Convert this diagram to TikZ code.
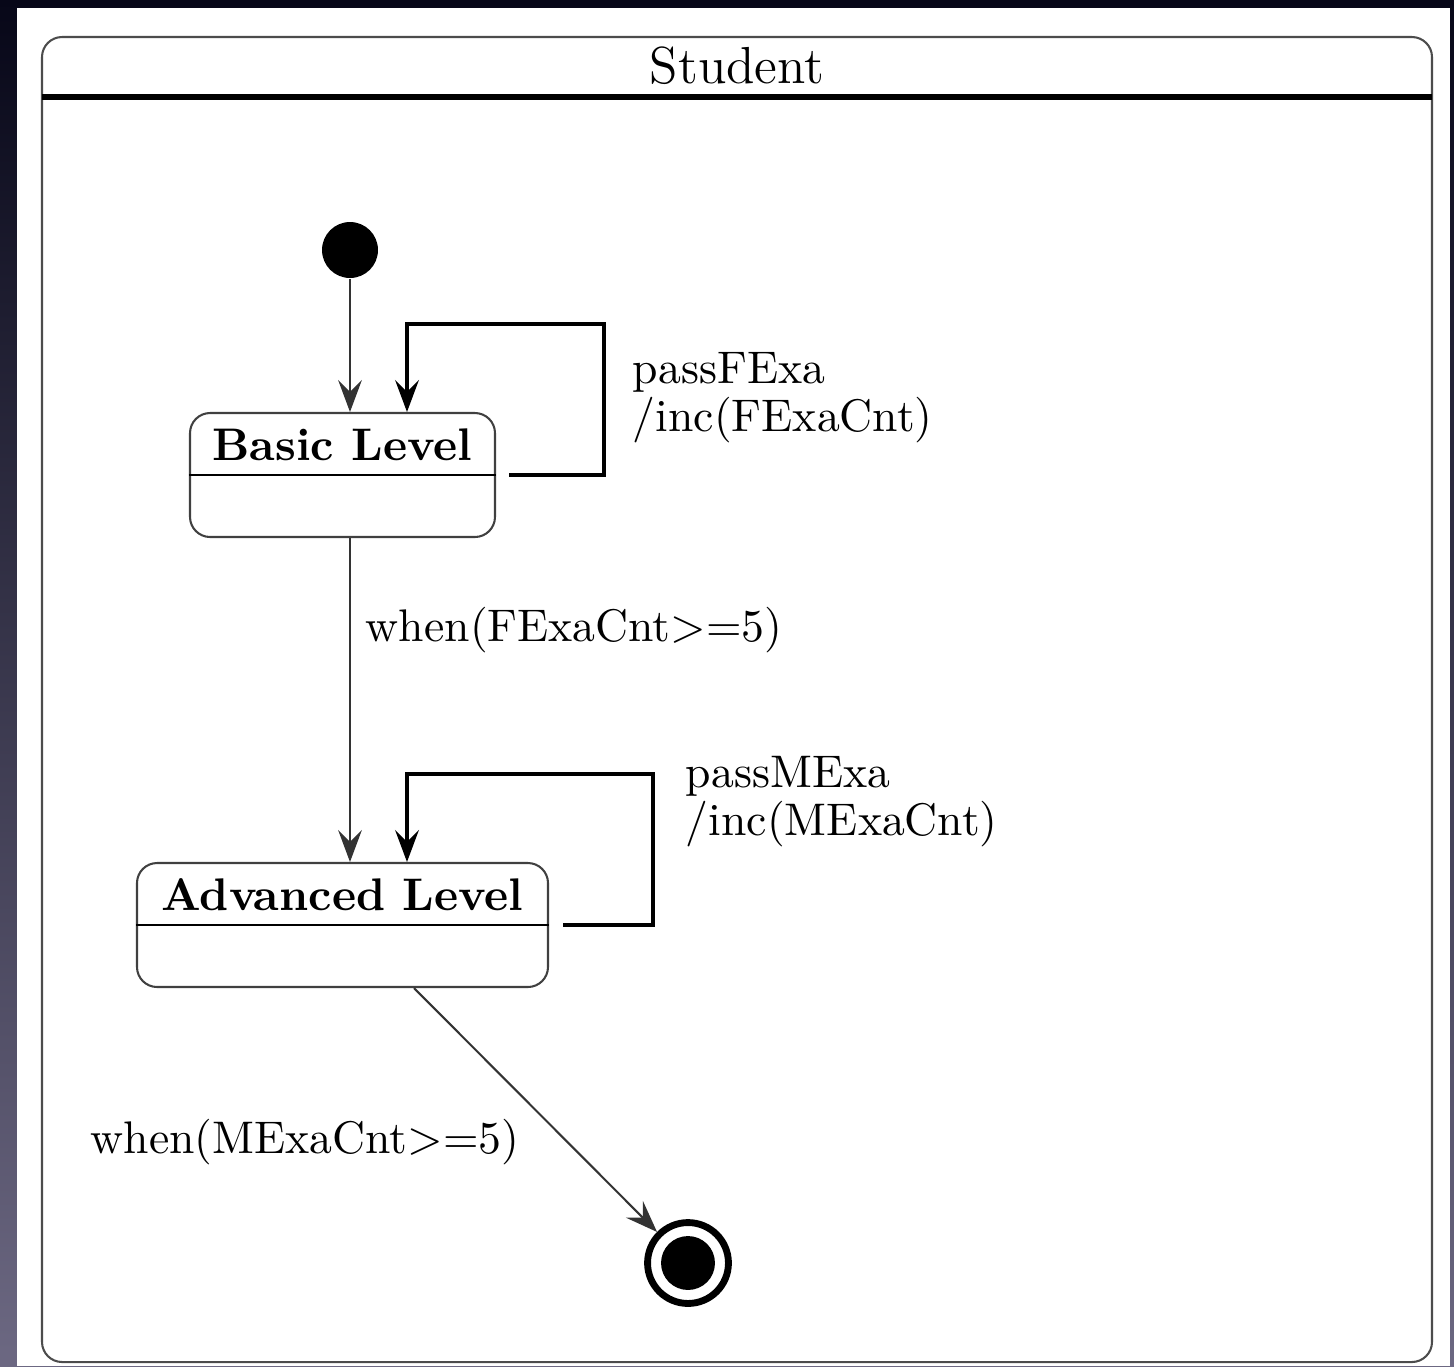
\documentclass[tikz,border=0pt]{standalone}
\usepackage{fontspec}
\usetikzlibrary{arrows.meta,calc}
\definecolor{bgtop}{RGB}{7,7,24}
\definecolor{bgmid}{RGB}{36,34,62}
\definecolor{bgbot}{RGB}{108,104,130}
\begin{document}
\begin{tikzpicture}[x=0.2188pt,y=-0.2188pt,
  frame/.style={draw=black!70, line width=0.45pt, rounded corners=4.4pt},
  statebox/.style={draw=black!75, line width=0.45pt, rounded corners=4.4pt,
    minimum height=27.13pt, inner sep=0pt},
  divider/.style={draw=black, line width=0.6pt},
  statename/.style={font=\bfseries, inner sep=0pt},
  initstate/.style={circle, fill=black, minimum size=12.25pt, inner sep=0pt},
  finalstate/.style={circle, draw=black, line width=1.5pt, minimum size=17.7pt, inner sep=0pt,
    path picture={\fill[black] (path picture bounding box.center) circle (5.9pt);}},
  tip/.style={-{Stealth[length=7pt,width=5.2pt,inset=2.6pt]}},
  trans/.style={tip, draw=black!80, line width=0.45pt},
  loopline/.style={tip, draw=black, line width=0.75pt},
  lbl/.style={inner sep=0pt}]
% background and margins
\fill[top color=bgtop, middle color=bgmid, bottom color=bgbot] (0,0) rectangle (1454,1366);
\fill[white] (17,8) rectangle (1450,1366);
\useasboundingbox (0,0) rectangle (1454,1366);
% outer composite state
\draw[frame] (42,37) rectangle (1432,1362);
\draw[line width=1.1pt] (42,97) -- (1432,97);
\node[font=\fontsize{11.4}{14}\selectfont, inner sep=0pt] (title) at (737,66) {Student};
% states
\node[initstate] (init) at (350,250) {};
\node[statebox, minimum width=66.73pt] (basic) at (342.5,475) {};
\draw[divider] (basic.west) -- (basic.east);
\node[statename] (basicname) at (342.5,445) {Basic Level};
\node[statebox, minimum width=89.93pt] (adv) at (342.5,925) {};
\draw[divider] (adv.west) -- (adv.east);
\node[statename] (advname) at (342.5,895) {Advanced Level};
\node[finalstate] (final) at (688,1263) {};
% transitions
\draw[trans] (init) -- (init |- basic.north);
\draw[trans] (init |- basic.south) -- (init |- adv.north);
\node[lbl, anchor=west] (t1) at (365,630) {when(FExaCnt>=5)};
\coordinate (l1a) at (604,324);
\coordinate (l1b) at (407,324);
\draw[loopline] ($(basic.east)+(13,0)$) -| (l1a) -- (l1b) -- (l1b |- basic.north);
\node[lbl, anchor=west, align=left] (l1lbl) at (632,398) {passFExa\\[-1.5pt]/inc(FExaCnt)};
\coordinate (l2a) at (653,774);
\coordinate (l2b) at (407,774);
\draw[loopline] ($(adv.east)+(14,0)$) -| (l2a) -- (l2b) -- (l2b |- adv.north);
\node[lbl, anchor=west, align=left] (l2lbl) at (685,802) {passMExa\\[-1.5pt]/inc(MExaCnt)};
\draw[trans] ($(adv.south)+(71.5,0)$) -- (final);
\node[lbl] (t2) at (305,1142) {when(MExaCnt>=5)};
\end{tikzpicture}
\end{document}
